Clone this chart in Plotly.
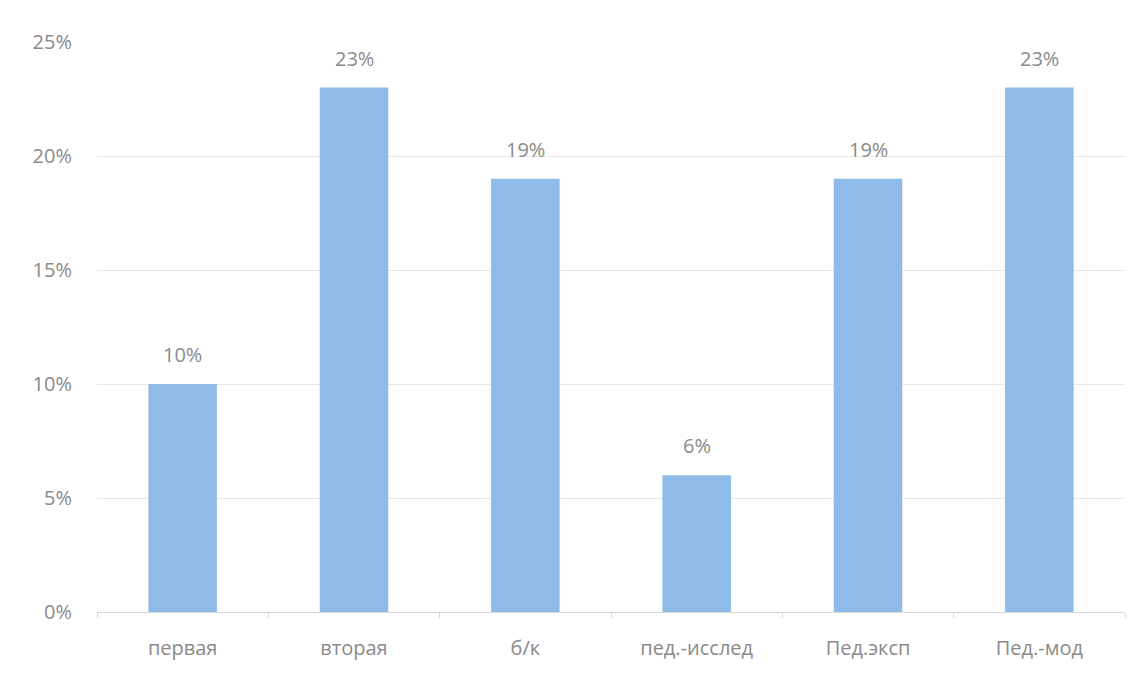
import plotly.graph_objects as go

categories = ["первая", "вторая", "б/к", "пед.-исслед", "Пед.эксп", "Пед.-мод"]
values = [10, 23, 19, 6, 19, 23]
labels = ["10%", "23%", "19%", "6%", "19%", "23%"]
ytick_vals = [0, 5, 10, 15, 20, 25]
ytick_text = ["0%", "5%", "10%", "15%", "20%", "25%"]

TXT = "#8a8a8a"
fig = go.Figure(go.Bar(
    x=categories, y=values,
    marker=dict(color="#8fbbe8", line=dict(width=0)),
    hoverinfo="skip",
))
for c, v, t in zip(categories, values, labels):
    fig.add_annotation(x=c, y=v, text=t, showarrow=False, yanchor="bottom",
                       yshift=14, font=dict(size=20, color=TXT, family="Open Sans"))

fig.update_layout(
    width=1143, height=673,
    margin=dict(l=89, r=26, t=34, b=69),
    paper_bgcolor="white", plot_bgcolor="white",
    font=dict(family="Open Sans", size=20, color=TXT),
    bargap=0.6, showlegend=False,
)
fig.update_xaxes(
    showline=True, linecolor="#d8d8d8", linewidth=1,
    ticks="outside", tickson="boundaries", ticklen=5, tickcolor="#d8d8d8",
    tickfont=dict(size=20, color=TXT), showgrid=False, ticklabelstandoff=18,
)
fig.update_yaxes(
    range=[0, 25], tickvals=ytick_vals, ticktext=ytick_text,
    showgrid=True, gridcolor="#e8e8e8", gridwidth=1,
    zeroline=False, showline=False, ticks="", ticklabelstandoff=24,
    tickfont=dict(size=20, color=TXT),
)
fig.write_html("out.html")
